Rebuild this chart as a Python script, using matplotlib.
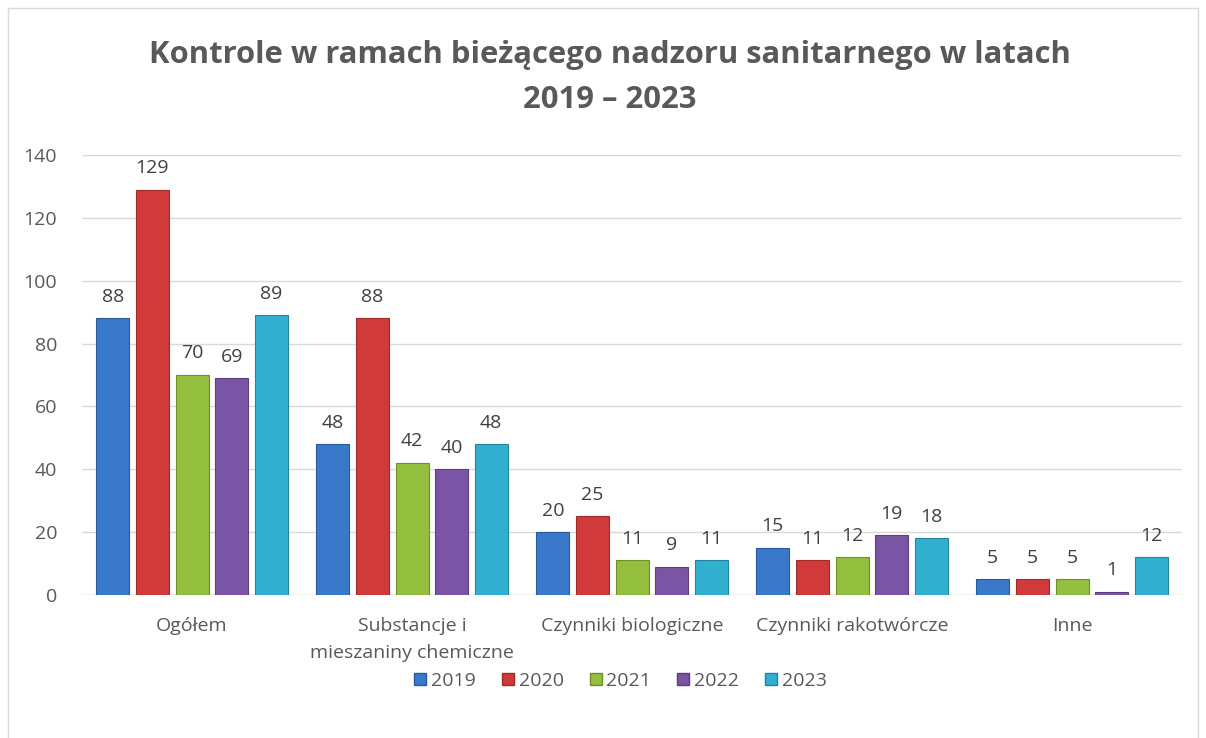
import numpy as np
import matplotlib.pyplot as plt
from matplotlib.lines import Line2D

categories = ['Ogółem', 'Substancje i\nmieszaniny chemiczne', 'Czynniki biologiczne',
              'Czynniki rakotwórcze', 'Inne']
years = ['2019', '2020', '2021', '2022', '2023']
v2019 = [88, 48, 20, 15, 5]
v2020 = [129, 88, 25, 11, 5]
v2021 = [70, 42, 11, 12, 5]
v2022 = [69, 40, 9, 19, 1]
v2023 = [89, 48, 11, 18, 12]
series = [v2019, v2020, v2021, v2022, v2023]

colors = ['#3A78C9', '#D03A3A', '#93BE3E', '#7A55A6', '#31AFCF']
edges = ['#2A5A9A', '#9E2A2A', '#6E8F2C', '#5A3E7E', '#23849C']

plt.rcParams['font.family'] = ['Open Sans', 'DejaVu Sans']

fig = plt.figure(figsize=(12.06, 7.38), dpi=100)
ax = fig.add_axes([82 / 1206, 1 - 595 / 738, 1100 / 1206, 440 / 738])

x = np.arange(len(categories))
step = 0.18
width = 0.15
for i, (vals, c, ec) in enumerate(zip(series, colors, edges)):
    pos = x + (i - 2) * step
    bars = ax.bar(pos, vals, width, color=c, edgecolor=ec, linewidth=0.8, zorder=3, label=years[i])
    for b, v in zip(bars, vals):
        ax.annotate(str(v), (b.get_x() + b.get_width() / 2, v), xytext=(0, 9),
                    textcoords='offset points', ha='center', va='bottom',
                    fontsize=14, color='#404040')

ax.set_xlim(-0.5, 4.5)
ax.set_ylim(0, 140)
ax.set_yticks(range(0, 141, 20))
ax.grid(axis='y', color='#D9D9D9', linewidth=1, zorder=0)
ax.set_axisbelow(True)
for s in ax.spines.values():
    s.set_visible(False)
ax.axhline(0, color='#D9D9D9', linewidth=1, zorder=1)
ax.tick_params(length=0, labelsize=14, labelcolor='#595959')
ax.tick_params(axis='y', pad=18)
ax.set_xticks(x)
ax.set_xticklabels(categories, linespacing=1.6)
ax.tick_params(axis='x', pad=16)

fig.text(0.506, 1 - 55 / 738, 'Kontrole w ramach bieżącego nadzoru sanitarnego w latach',
         ha='center', va='center', fontsize=22.3, fontweight='bold', color='#595959')
fig.text(0.506, 1 - 100 / 738, '2019 – 2023',
         ha='center', va='center', fontsize=22.3, fontweight='bold', color='#595959')

handles = [Line2D([], [], marker='s', linestyle='', markersize=9, markerfacecolor=c,
                  markeredgecolor=ec) for c, ec in zip(colors, edges)]
fig.legend(handles, years, loc='center', bbox_to_anchor=(0.511, 1 - 681 / 738), ncol=5,
           frameon=False, fontsize=14, labelcolor='#595959', handletextpad=-0.2,
           columnspacing=0.9, handlelength=1.5)

# chart border
fig.add_artist(Line2D([8 / 1206, 8 / 1206], [0, 1 - 8 / 738], color='#D9D9D9', lw=1,
                      transform=fig.transFigure))
fig.add_artist(Line2D([8 / 1206, 1198 / 1206], [1 - 8 / 738, 1 - 8 / 738], color='#D9D9D9',
                      lw=1, transform=fig.transFigure))
fig.add_artist(Line2D([1198 / 1206, 1198 / 1206], [0, 1 - 8 / 738], color='#D9D9D9', lw=1,
                      transform=fig.transFigure))

fig.savefig('out.png', dpi=100)
